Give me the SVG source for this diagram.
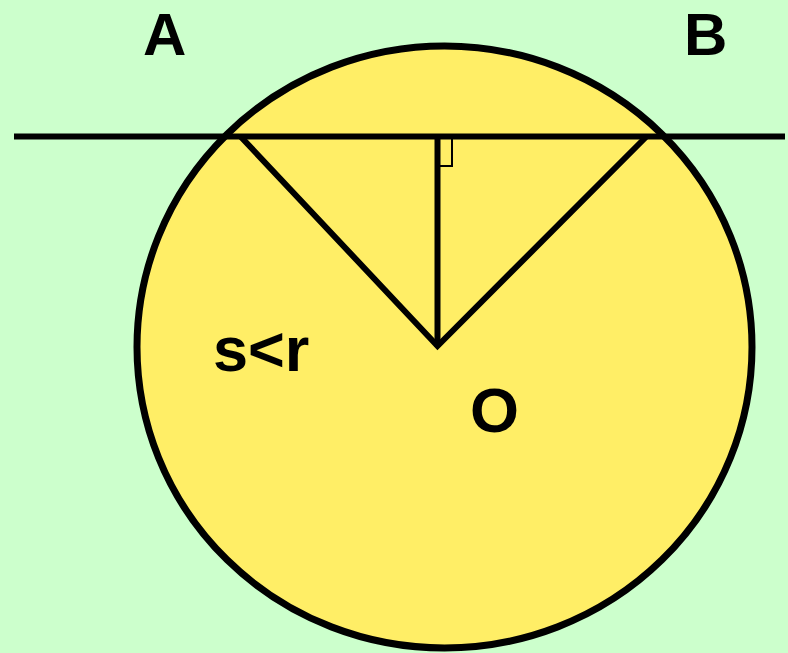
<svg xmlns="http://www.w3.org/2000/svg" width="788" height="653" viewBox="0 0 788 653">
<style>
.ln{stroke:#000;stroke-width:6;fill:none}
.lbl{font-family:"Liberation Sans",Arial,sans-serif;font-weight:bold;font-size:63px;fill:#000}
.top{font-size:60px}
</style>
<rect x="0" y="0" width="788" height="653" fill="#ccffcc"/>
<g id="circle">
<ellipse cx="444.5" cy="347" rx="307.5" ry="301" fill="#ffee66" stroke="#000" stroke-width="7"/>
</g>
<g id="connectors">
<line class="ln" x1="14" y1="136.5" x2="785" y2="136.5"/>
<polyline class="ln" points="241,137 437.5,346 646,137" stroke-linejoin="miter"/>
<line class="ln" x1="437.5" y1="137" x2="437.5" y2="347"/>
<rect x="438" y="137" width="14" height="29" fill="none" stroke="#000" stroke-width="2"/>
</g>
<g id="labels">
<text class="lbl top" x="143" y="55">A</text>
<text class="lbl top" x="684" y="55">B</text>
<text class="lbl" x="213" y="371">s&lt;r</text>
<text class="lbl" x="470" y="432">O</text>
</g>
</svg>
